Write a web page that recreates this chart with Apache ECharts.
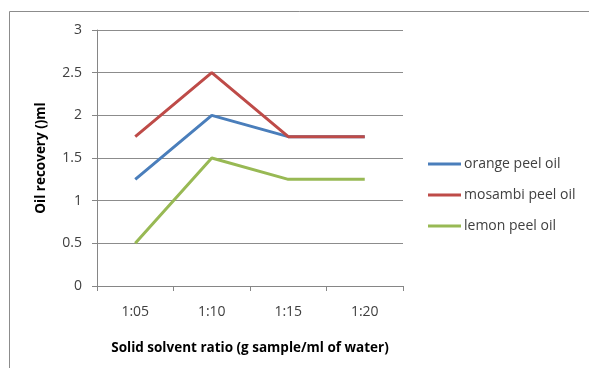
<!DOCTYPE html>
<html>
<head>
<meta charset="utf-8">
<script src="https://cdn.jsdelivr.net/npm/echarts@6/dist/echarts.min.js"></script>
<style>
  html, body { margin: 0; padding: 0; background: #ffffff; }
  #chart { width: 589px; height: 368px; }
</style>
</head>
<body>
<div id="chart"></div>
<script>
// categories and values
const ratios = ["1:05", "1:10", "1:15", "1:20"];
const orangeOil = [1.25, 2, 1.75, 1.75];
const mosambiOil = [1.75, 2.5, 1.75, 1.75];
const lemonOil = [0.5, 1.5, 1.25, 1.25];

const chart = echarts.init(document.getElementById("chart"));
const font = "'Open Sans', 'Noto Sans', sans-serif";

const lineSeries = (name, data, color) => ({
  name: name,
  type: "line",
  data: data,
  symbol: "none",
  lineStyle: { color: color, width: 3 },
  itemStyle: { color: color },
});

const option = {
  animation: false,
  backgroundColor: "#ffffff",
  graphic: [
    {
      type: "polyline",
      shape: { points: [[9.5, 368], [9.5, 11.5], [589, 11.5]] },
      style: { stroke: "#8c8c8c", lineWidth: 1, fill: null },
    },
  ],
  grid: { left: 97, top: 30, width: 306, height: 256 },
  legend: {
    orient: "vertical",
    left: 428,
    top: 157,
    padding: 0,
    itemWidth: 33,
    itemHeight: 3,
    itemGap: 17,
    icon: "rect",
    textStyle: { fontFamily: font, fontSize: 14, color: "#404040", padding: [0, 0, 0, -2] },
    data: ["orange peel oil", "mosambi peel oil", "lemon peel oil"],
  },
  xAxis: {
    type: "category",
    data: ratios,
    boundaryGap: true,
    name: "Solid solvent ratio (g sample/ml of water)",
    nameLocation: "middle",
    nameGap: 55,
    nameTextStyle: { fontFamily: font, fontSize: 13.5, fontWeight: "bold", color: "#000000" },
    axisLine: { lineStyle: { color: "#868686" } },
    axisTick: { show: true, length: 5, alignWithLabel: false, lineStyle: { color: "#868686" } },
    axisLabel: { fontFamily: font, fontSize: 14, color: "#404040", margin: 19 },
  },
  yAxis: {
    type: "value",
    min: 0,
    max: 3,
    interval: 0.5,
    name: "Oil recovery ()ml",
    nameLocation: "middle",
    nameGap: 49,
    nameTextStyle: { fontFamily: font, fontSize: 13.5, fontWeight: "bold", color: "#000000" },
    axisLine: { show: true, lineStyle: { color: "#868686" } },
    axisTick: { show: true, length: 5, lineStyle: { color: "#868686" } },
    axisLabel: { fontFamily: font, fontSize: 14, color: "#404040", margin: 15 },
    splitLine: { lineStyle: { color: "#8c8c8c" } },
  },
  series: [
    lineSeries("orange peel oil", orangeOil, "#4a7ebb"),
    lineSeries("mosambi peel oil", mosambiOil, "#be4b48"),
    lineSeries("lemon peel oil", lemonOil, "#98b954"),
  ],
};

chart.setOption(option);
</script>
</body>
</html>
